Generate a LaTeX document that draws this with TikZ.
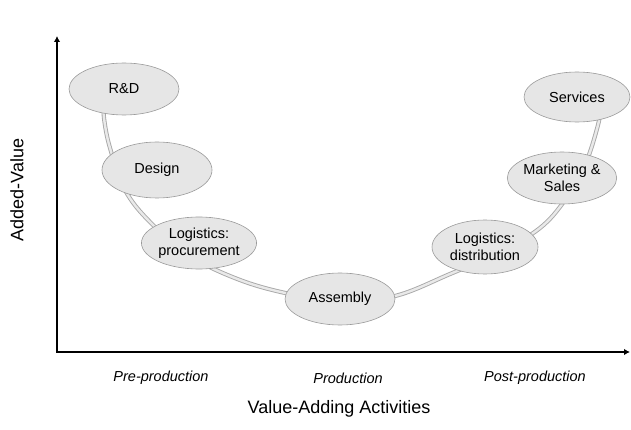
\documentclass[tikz,border=0pt]{standalone}
\usepackage{fontspec}
\setmainfont{Liberation Sans}
\usetikzlibrary{shapes.geometric,arrows.meta}
\definecolor{stagefill}{HTML}{E6E6E6}
\definecolor{stageline}{HTML}{9A9A9A}
\definecolor{tubeline}{HTML}{A8A8A8}
\definecolor{tubefill}{HTML}{E9E9E9}
\begin{document}
\begin{tikzpicture}[x=1pt,y=-1pt,
  stage/.style={ellipse, draw=stageline, line width=0.6pt, fill=stagefill,
    inner sep=0pt, align=center, font=\fontsize{14.5}{17}\selectfont},
  tube/.style={draw=tubeline, line width=0.9pt, double=tubefill, double distance=2.4pt},
  axis/.style={line width=2.3pt, line join=miter,
    arrows={Latex[length=6pt,width=6.5pt]-Latex[length=6pt,width=6.5pt]}},
  phase/.style={font=\fontsize{14.5}{16}\selectfont\itshape},
  title/.style={font=\fontsize{18}{20}\selectfont}]
\useasboundingbox (0,0) rectangle (631,430);

% value curve running behind the activity stages
\draw[tube] plot[smooth, tension=0.6] coordinates {
  (104,100) (104,118) (110,148) (125,190) (150,222) (190,256) (240,280)
  (290,294) (340,301) (395,296) (450,274) (500,252) (540,228) (565,200)
  (585,165) (598,125) (602,100)};

% activity stages
\node[stage, minimum width=110pt, minimum height=52pt] (rd)      at (124,89)  {R\&D};
\node[stage, minimum width=110pt, minimum height=56pt] (design)  at (157,170) {Design};
\node[stage, minimum width=110pt, minimum height=52pt] (procure) at (199,243) {Logistics:\\procurement};
\node[stage, minimum width=110pt, minimum height=52pt] (assembly) at (340,299) {Assembly};
\node[stage, minimum width=106pt, minimum height=54pt] (distrib) at (485,247) {Logistics:\\distribution};
\node[stage, minimum width=102pt, minimum height=52pt] (market)  at (562,178) {Marketing \&\\Sales};
\node[stage, minimum width=106pt, minimum height=50pt] (services) at (577,97) {Services};

% axes
\coordinate (ytop) at (57,36);
\coordinate (origin) at (57,352);
\coordinate (xend) at (630,352);
\draw[axis] (ytop) -- (origin) -- (xend);

% axis labels
\node[title, rotate=90] (ylabel) at (17,190) {Added-Value};
\node[title] (xlabel) at (339,409) {Value-Adding Activities};
\node[phase] (pre)  at (161,378) {Pre-production};
\node[phase] (prod) at (348,378) {Production};
\node[phase] (post) at (535,378) {Post-production};
\end{tikzpicture}
\end{document}
